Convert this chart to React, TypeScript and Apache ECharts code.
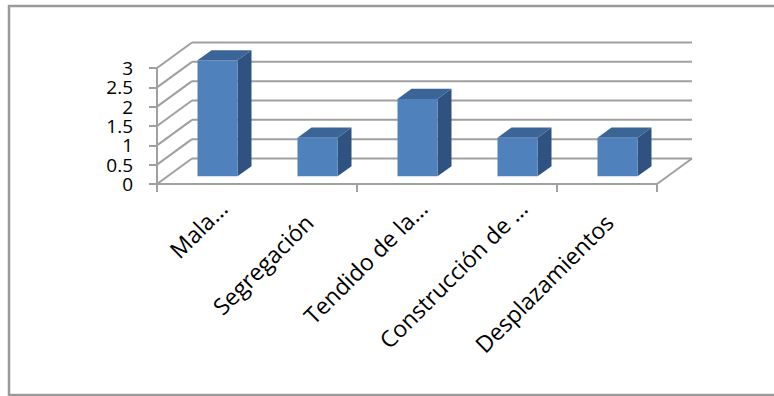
import React, { useEffect, useRef } from "react";
import * as echarts from "echarts";

const categories = ["Mala...", "Segregación", "Tendido de la...", "Construcción de ...", "Desplazamientos"];
const values = [3, 1, 2, 1, 1];
const yTicks = [0, 0.5, 1, 1.5, 2, 2.5, 3];

const DX = 35;
const DY = -25.5;
const GRID_COLOR = "#a0a0a0";
const FONT = "Open Sans";

export default function App() {
  const ref = useRef<HTMLDivElement>(null);
  useEffect(() => {
    const chart = echarts.init(ref.current!, null, { renderer: "svg" });
    const yMin = yTicks[0];
    const yMax = yTicks[yTicks.length - 1];
    const yInterval = yTicks[1] - yTicks[0];
    chart.setOption({
      animation: false,
      backgroundColor: "#ffffff",
      graphic: [
        {
          type: "rect",
          shape: { x: 9, y: 6, width: 800, height: 389 },
          style: { fill: "none", stroke: "#9a9a9a", lineWidth: 2.5 },
          silent: true,
          z: -10,
        },
      ],
      grid: [
        { left: 157, top: 68, width: 500, height: 116 },
        { left: 173, top: 68, width: 500, height: 116 },
      ],
      xAxis: [
        {
          type: "category",
          data: categories,
          gridIndex: 0,
          axisLine: { show: true, lineStyle: { color: GRID_COLOR, width: 2 } },
          axisTick: { show: true, length: 8, lineStyle: { color: GRID_COLOR, width: 2 } },
          axisLabel: { show: false },
          splitLine: { show: false },
        },
        {
          type: "category",
          data: categories,
          gridIndex: 1,
          axisLine: { show: false },
          axisTick: { show: false },
          splitLine: { show: false },
          axisLabel: {
            show: true,
            rotate: 45,
            interval: 0,
            margin: 20,
            fontFamily: FONT,
            fontSize: 23,
            color: "#000",
            formatter: (val: string) => (val.endsWith(".") ? val : `{p|${val}}`),
            rich: {
              p: { padding: [0, 20, 0, 0], fontFamily: FONT, fontSize: 23, color: "#000" },
            },
          },
        },
      ],
      yAxis: [
        {
          type: "value",
          gridIndex: 0,
          min: yMin,
          max: yMax,
          interval: yInterval,
          axisLine: { show: true, lineStyle: { color: GRID_COLOR, width: 2 } },
          axisTick: { show: true, length: 8, lineStyle: { color: GRID_COLOR, width: 2 } },
          splitLine: { show: false },
          axisLabel: {
            margin: 24,
            showMinLabel: true,
            showMaxLabel: true,
            hideOverlap: false,
            fontFamily: FONT,
            fontSize: 19,
            lineHeight: 17,
            color: "#000",
          },
        },
        { type: "value", gridIndex: 1, min: yMin, max: yMax, show: false },
      ],
      series: [
        {
          type: "custom",
          xAxisIndex: 0,
          yAxisIndex: 0,
          z: 1,
          silent: true,
          data: yTicks.map((v) => [0, v]),
          encode: { x: 0, y: 1 },
          renderItem: (params: any, api: any) => {
            const v = api.value(1);
            const p = api.coord([0, v]);
            const bw = api.size([1, 0])[0];
            const L = p[0] - bw / 2;
            const R = L + bw * categories.length;
            const y = p[1];
            const style = { stroke: GRID_COLOR, lineWidth: 2 };
            const children: any[] = [
              { type: "line", shape: { x1: L, y1: y, x2: L + DX, y2: y + DY }, style },
              { type: "line", shape: { x1: L + DX, y1: y + DY, x2: R + DX, y2: y + DY }, style },
            ];
            if (v === 0) {
              children.push({ type: "line", shape: { x1: R, y1: y, x2: R + DX, y2: y + DY }, style });
            }
            return { type: "group", children };
          },
        },
        {
          type: "custom",
          xAxisIndex: 0,
          yAxisIndex: 0,
          z: 2,
          data: values.map((v, i) => [i, v]),
          encode: { x: 0, y: 1 },
          renderItem: (params: any, api: any) => {
            const i = api.value(0);
            const v = api.value(1);
            const c = api.coord([i, v]);
            const base = api.coord([i, 0]);
            const bw = api.size([1, 0])[0];
            const hw = bw * 0.2;
            const d1 = 0.3;
            const d2 = 0.7;
            const fx1 = c[0] - hw + d1 * DX;
            const fx2 = c[0] + hw + d1 * DX;
            const fyT = c[1] + d1 * DY;
            const fyB = base[1] + d1 * DY;
            const ox = (d2 - d1) * DX;
            const oy = (d2 - d1) * DY;
            return {
              type: "group",
              children: [
                {
                  type: "polygon",
                  shape: { points: [[fx2, fyT], [fx2 + ox, fyT + oy], [fx2 + ox, fyB + oy], [fx2, fyB]] },
                  style: { fill: "#2F5281" },
                },
                {
                  type: "polygon",
                  shape: { points: [[fx1, fyT], [fx2, fyT], [fx2 + ox, fyT + oy], [fx1 + ox, fyT + oy]] },
                  style: { fill: "#3B6597" },
                },
                {
                  type: "rect",
                  shape: { x: fx1, y: fyT, width: fx2 - fx1, height: fyB - fyT },
                  style: { fill: "#4F81BD" },
                },
              ],
            };
          },
        },
      ],
    });
    return () => chart.dispose();
  }, []);
  return <div ref={ref} style={{ position: "fixed", left: 0, top: 0, width: 774, height: 396 }} />;
}
